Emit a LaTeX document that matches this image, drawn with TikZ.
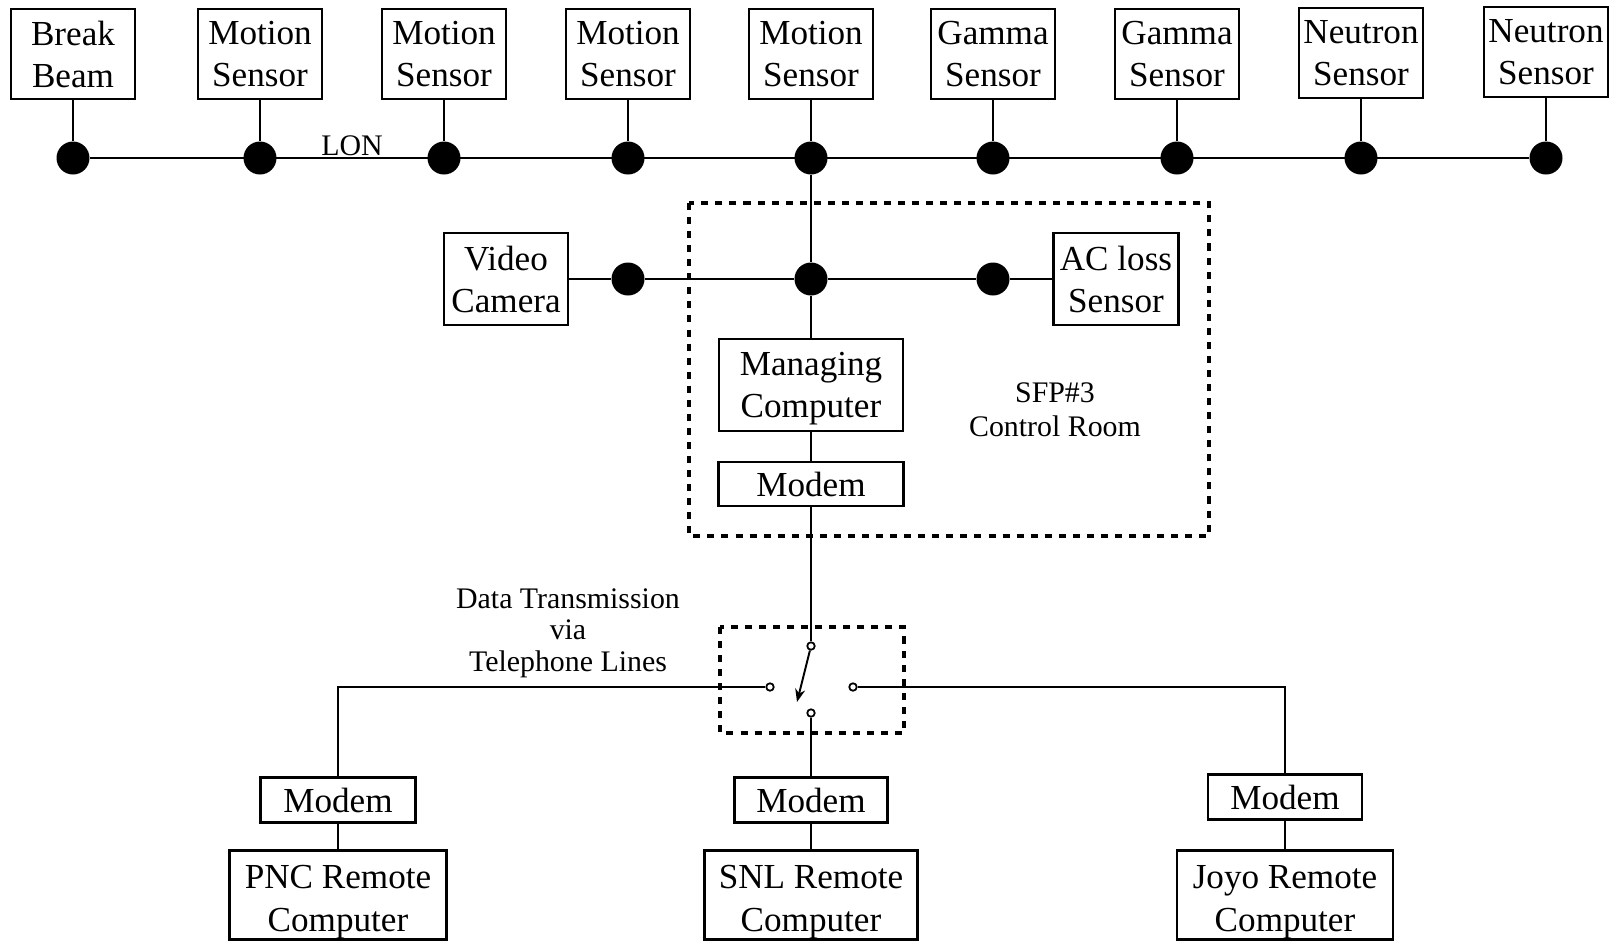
\documentclass[tikz,border=0pt]{standalone}
\usepackage{fontspec}
\setmainfont{Liberation Serif}
\usetikzlibrary{arrows.meta}
\tikzset{
	unitbox/.style={draw, line width=1.3pt, inner sep=0pt, align=center, text depth=0pt, font=\fontsize{20}{24}\selectfont},
	sensorbox/.style={unitbox, minimum width=2.48cm, minimum height=1.8cm},
	modembox/.style={unitbox, minimum height=0.9cm},
	remotebox/.style={unitbox, minimum height=1.78cm, text height=1.44cm},
	dot/.style={circle, fill=black, inner sep=0pt, minimum size=0.66cm},
	contact/.style={circle, draw, fill=white, line width=1pt, inner sep=0pt, minimum size=0.15cm},
	wire/.style={line width=1.1pt},
	room/.style={line width=1.8pt, dash pattern=on 4pt off 4pt},
	note/.style={align=center, inner sep=0pt, font=\fontsize{17}{19.5}\selectfont},
}

\begin{document}
\begin{tikzpicture}[x=0.02cm, y=-0.02cm]
		%%%%% START %%%%%
		\useasboundingbox (0,0) rectangle (1616,941);
		
		% sensors on the LON
		\node[sensorbox] (bb) at (73,54) {Break\\Beam};
		\node[sensorbox] (ms1) at (260,54) {Motion\\Sensor};
		\node[sensorbox] (ms2) at (444,54) {Motion\\Sensor};
		\node[sensorbox] (ms3) at (628,54) {Motion\\Sensor};
		\node[sensorbox] (ms4) at (811,54) {Motion\\Sensor};
		\node[sensorbox] (gs1) at (993,54) {Gamma\\Sensor};
		\node[sensorbox] (gs2) at (1177,54) {Gamma\\Sensor};
		\node[sensorbox] (ns1) at (1361,53) {Neutron\\Sensor};
		\node[sensorbox] (ns2) at (1546,52) {Neutron\\Sensor};
		
		\node[dot] (lon1) at (73,158) {};
		\node[dot] (lon2) at (260,158) {};
		\node[dot] (lon3) at (444,158) {};
		\node[dot] (lon4) at (628,158) {};
		\node[dot] (lon5) at (811,158) {};
		\node[dot] (lon6) at (993,158) {};
		\node[dot] (lon7) at (1177,158) {};
		\node[dot] (lon8) at (1361,158) {};
		\node[dot] (lon9) at (1546,158) {};
		
		\draw[wire] (bb) -- (lon1);
		\draw[wire] (ms1) -- (lon2);
		\draw[wire] (ms2) -- (lon3);
		\draw[wire] (ms3) -- (lon4);
		\draw[wire] (ms4) -- (lon5);
		\draw[wire] (gs1) -- (lon6);
		\draw[wire] (gs2) -- (lon7);
		\draw[wire] (ns1) -- (lon8);
		\draw[wire] (ns2) -- (lon9);
		\draw[wire] (lon1) -- (lon9);
		\node[note] (lon) at (352,146) {LON};
		
		% control room
		\draw[room] (689,203) rectangle (1209,536);
		\node[note] (sfp) at (1055,410) {SFP\#3\\Control Room};
		
		\node[sensorbox, minimum height=1.84cm] (cam) at (506,279) {Video\\Camera};
		\node[sensorbox, minimum width=2.5cm, minimum height=1.84cm] (ac) at (1116,279) {AC loss\\Sensor};
		\node[dot] (hub1) at (628,279) {};
		\node[dot] (hub2) at (811,279) {};
		\node[dot] (hub3) at (993,279) {};
		\draw[wire] (cam) -- (hub1) -- (hub2) -- (hub3) -- (ac);
		\draw[wire] (lon5) -- (hub2);
		
		\node[unitbox, minimum width=3.68cm, minimum height=1.84cm] (mc) at (811,385) {Managing\\Computer};
		\node[modembox, minimum width=3.7cm, minimum height=0.88cm] (sfpmodem) at (811,484) {Modem};
		\draw[wire] (hub2) -- (mc);
		\draw[wire] (mc) -- (sfpmodem);
		
		% switch on the telephone lines
		\draw[room] (720,627) rectangle (904,733);
		\node[contact] (pivot) at (811,646) {};
		\node[contact] (swl) at (770,687) {};
		\node[contact] (swr) at (853,687) {};
		\node[contact] (swb) at (811,713) {};
		\coordinate (swtip) at (797,702);
		\draw[wire] (sfpmodem) -- (pivot);
		\draw[wire, -{Stealth[length=0.26cm, width=0.2cm]}] (pivot) -- (swtip);
		\node[note, font=\fontsize{17}{18}\selectfont] (dtx) at (568,633) {Data Transmission\\via\\Telephone Lines};
		
		% remote sites
		\node[modembox, minimum width=3.1cm] (pncmodem) at (338,800) {Modem};
		\node[remotebox, minimum width=4.34cm] (pnc) at (338,895) {PNC Remote\\Computer};
		\node[modembox, minimum width=3.06cm] (snlmodem) at (811,800) {Modem};
		\node[remotebox, minimum width=4.26cm] (snl) at (811,895) {SNL Remote\\Computer};
		\node[modembox, minimum width=3.08cm] (joyomodem) at (1285,797) {Modem};
		\node[remotebox, minimum width=4.32cm] (joyo) at (1285,895) {Joyo Remote\\Computer};
		
		\draw[wire] (swl) -- (swl -| pncmodem) -- (pncmodem);
		\draw[wire] (swb) -- (snlmodem);
		\draw[wire] (swr) -- (swr -| joyomodem) -- (joyomodem);
		\draw[wire] (pncmodem) -- (pnc);
		\draw[wire] (snlmodem) -- (snl);
		\draw[wire] (joyomodem) -- (joyo);
		%%%%% END %%%%%
\end{tikzpicture}
\end{document}
